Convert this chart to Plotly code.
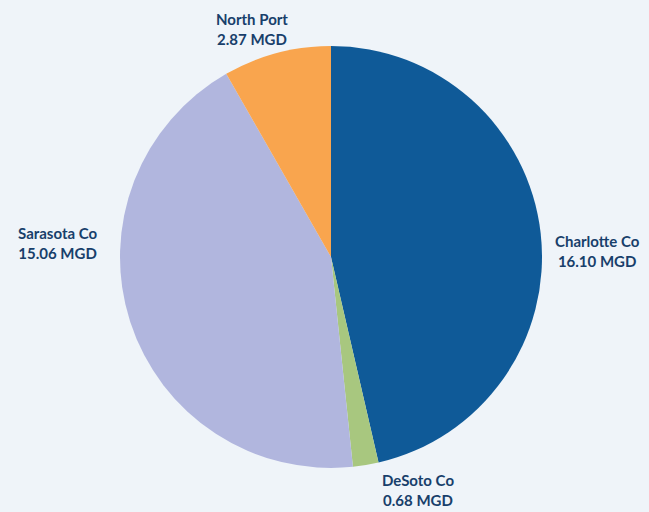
import plotly.graph_objects as go

labels = ["Charlotte Co", "DeSoto Co", "Sarasota Co", "North Port"]
values = [16.10, 0.68, 15.06, 2.87]
colors = ["#0f5a98", "#a8c77f", "#b1b6de", "#f9a54e"]
label_pos = [(597, 251), (418, 490), (58, 243), (252, 29)]

W, H = 649, 512
cx, cy, r = 331, 257, 211

fig = go.Figure(go.Pie(
    labels=labels, values=values, sort=False, direction="clockwise", rotation=0,
    marker=dict(colors=colors, line=dict(width=0)),
    textinfo="none", hoverinfo="label+value", showlegend=False,
    domain=dict(x=[(cx - r) / W, (cx + r) / W], y=[1 - (cy + r) / H, 1 - (cy - r) / H]),
))

for lab, val, (px, py) in zip(labels, values, label_pos):
    fig.add_annotation(
        x=px / W, y=1 - py / H, xref="paper", yref="paper",
        text=f"<b>{lab}<br>{val:.2f} MGD</b>", showarrow=False,
        font=dict(family="Lato", size=15, color="#183f6b"),
        align="center", xanchor="center", yanchor="middle",
    )

fig.update_layout(
    width=W, height=H, margin=dict(l=0, r=0, t=0, b=0),
    paper_bgcolor="#eff4f9", plot_bgcolor="#eff4f9",
)
fig.write_html(
    "out.html",
    config={"displayModeBar": False},
    post_script="document.body.style.margin='0';document.body.style.overflow='hidden';",
)
